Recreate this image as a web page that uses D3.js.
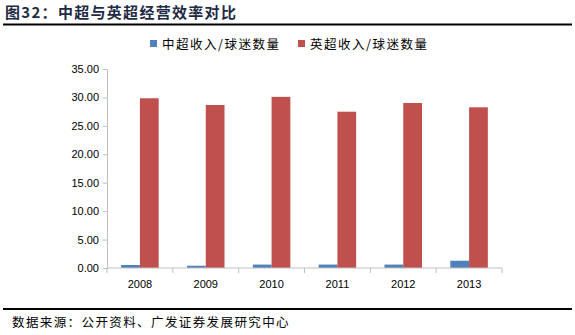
<!DOCTYPE html>
<html><head><meta charset="utf-8">
<script src="https://cdnjs.cloudflare.com/ajax/libs/d3/7.8.5/d3.min.js"></script>
<style>body{margin:0;background:#fff}svg{display:block}</style>
</head><body>
<script>
const categories = ["2008","2009","2010","2011","2012","2013"];
const seriesNames = ["中超收入/球迷数量","英超收入/球迷数量"];
const csl = [0.53, 0.40, 0.60, 0.60, 0.60, 1.28];
const epl = [29.85, 28.67, 30.10, 27.49, 29.02, 28.26];
const yTicks = [0,5,10,15,20,25,30,35];
const colors = ["#4f81bd","#c0504d"];
const title = "图32：中超与英超经营效率对比";
const source = "数据来源：公开资料、广发证券发展研究中心";

const W=575,H=335;
const svg=d3.select("body").append("svg").attr("width",W).attr("height",H);
const cjk="'Noto Sans CJK SC','Noto Sans',sans-serif";

svg.append("text").attr("x",5).attr("y",18).text(title)
  .attr("font-family",cjk).attr("font-weight","bold").attr("font-size",15).attr("letter-spacing",1.3).attr("fill","#1f2a44");
svg.append("line").attr("x1",3).attr("x2",572).attr("y1",24.5).attr("y2",24.5).attr("stroke","#000").attr("stroke-width",1.8);
svg.append("line").attr("x1",3).attr("x2",572).attr("y1",309).attr("y2",309).attr("stroke","#000").attr("stroke-width",1.8);
svg.append("text").attr("x",12).attr("y",327).text(source)
  .attr("font-family",cjk).attr("font-size",12.5).attr("letter-spacing",1.4).attr("fill","#000");

const x0=d3.scaleBand().domain(categories).range([107,502]).paddingInner(0.43).paddingOuter(0.215);
const x1=d3.scaleBand().domain([0,1]).range([0,x0.bandwidth()]);
const y=d3.scaleLinear().domain([0,35]).range([268,69]);

const data=[csl,epl];
data.forEach((vals,si)=>{
  svg.append("g").selectAll("rect").data(vals).join("rect")
    .attr("x",(d,i)=>x0(categories[i])+x1(si))
    .attr("width",x1.bandwidth())
    .attr("y",d=>y(d)).attr("height",d=>y(0)-y(d))
    .attr("fill",colors[si]);
});

const axisCol="#bfbfbf";
const ya=svg.append("g").attr("transform","translate(107,0)")
  .call(d3.axisLeft(y).tickValues(yTicks).tickFormat(d3.format(".2f")).tickSizeOuter(0).tickSize(4));
ya.select(".domain").attr("stroke",axisCol);
ya.selectAll(".tick line").attr("stroke",axisCol);
ya.selectAll("text").attr("font-family","'Liberation Sans',Arial,sans-serif").attr("font-size",11).attr("fill","#000").attr("x",-8);

const xa=svg.append("g").attr("transform","translate(0,268)")
  .call(d3.axisBottom(x0).tickSize(0).tickSizeOuter(0));
xa.select(".domain").attr("stroke",axisCol).attr("d","M107,0H502");
xa.selectAll("text").attr("font-family","'Liberation Sans',Arial,sans-serif").attr("font-size",11).attr("fill","#000").attr("y",12);
const step=x0.step();
const tickXs=d3.range(categories.length+1).map(i=>107+i*step);
svg.append("g").selectAll("line").data(tickXs).join("line")
  .attr("x1",d=>d).attr("x2",d=>d).attr("y1",268).attr("y2",273).attr("stroke",axisCol);

const lg=svg.append("g");
const lx=[150,298];
seriesNames.forEach((n,i)=>{
  lg.append("rect").attr("x",lx[i]).attr("y",40).attr("width",7).attr("height",7).attr("fill",colors[i]);
  lg.append("text").attr("x",lx[i]+12).attr("y",48.5).text(n)
    .attr("font-family",cjk).attr("font-size",12.5).attr("letter-spacing",1.5).attr("fill","#000");
});
</script>
</body></html>
